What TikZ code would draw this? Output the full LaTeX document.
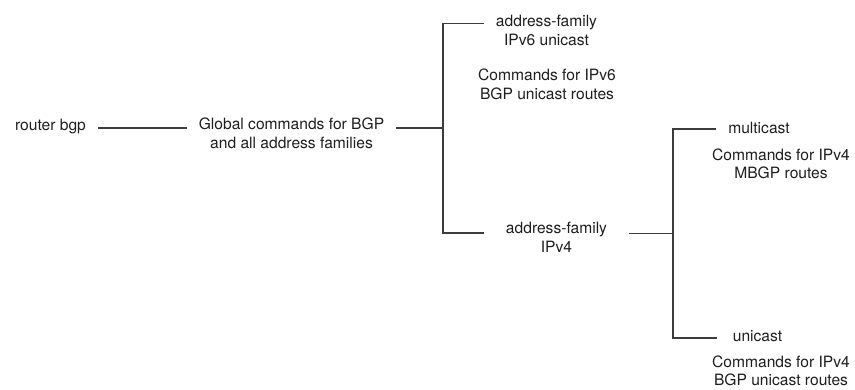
\documentclass[tikz,border=0pt]{standalone}
\usepackage{fontspec}
\setmainfont{TeX Gyre Heros}
\usetikzlibrary{positioning,calc}
\definecolor{bgpLine}{HTML}{3C3C3C}
\definecolor{bgpText}{HTML}{1E1E1E}
\tikzset{
  cmd/.style={
    text=bgpText, align=center, inner ysep=0pt, inner xsep=#1,
    font=\fontsize{15.6}{18.8}\selectfont, anchor=base},
  cmd/.default=12pt,
  branch/.style={draw=bgpLine, line width=1.1pt},
}

\begin{document}
\begin{tikzpicture}[x=1pt, y=-1pt]
\useasboundingbox (0,0) rectangle (855,389);

% the command modes (base = last line)
\node[cmd] (rb) at (50.5,130) {router bgp};
\node[cmd] (gl) at (291.5,148) {Global commands for BGP\\and all address families};
\node[cmd] (af6) at (546.5,45.3) {address-family\\IPv6 unicast};
\node[cmd] (cmd6) at (547,99) {Commands for IPv6\\BGP unicast routes};
\node[cmd=22pt] (af4) at (556.5,252) {address-family\\IPv4};
\node[cmd] (mc) at (759,133) {multicast};
\node[cmd] (cmdmc) at (781,178.8) {Commands for IPv4\\MBGP routes};
\node[cmd=16pt] (uc) at (757.5,341) {unicast};
\node[cmd] (cmduc) at (781,385.8) {Commands for IPv4\\BGP unicast routes};

% branch points
\coordinate (j1) at (443,128);
\coordinate (j2) at (673,233.5);

\draw[branch] (rb.east |- j1) -- (gl.west |- j1);
\draw[branch] (gl.east |- j1) -- (j1);
\draw[branch] ([yshift=21.8pt]af6.base west) -| (j1) |- ([yshift=19pt]af4.base west);
\draw[branch] (af4.east |- j2) -- (j2);
\draw[branch] ([yshift=4pt]mc.base west) -| (j2) |- ([yshift=3pt]uc.base west);

\end{tikzpicture}
\end{document}
